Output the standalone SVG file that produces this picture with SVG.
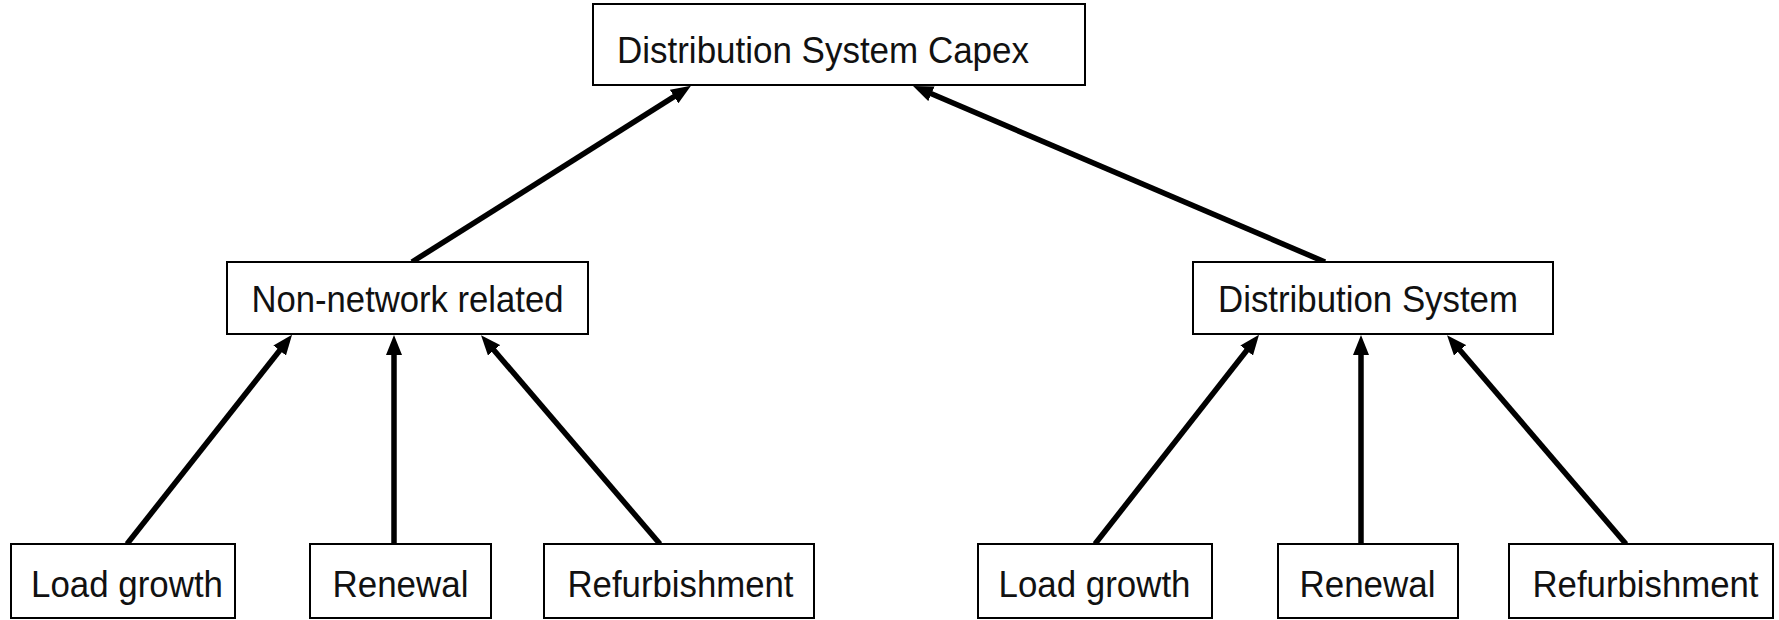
<svg xmlns="http://www.w3.org/2000/svg" width="1779" height="620" viewBox="0 0 1779 620">
<style>
.box{fill:#fff;stroke:#000;stroke-width:2}
.lbl{font-family:"Liberation Sans",Arial,sans-serif;font-size:36px;fill:#111;text-anchor:middle}
.arr{fill:none;stroke:#000;stroke-width:5.5;marker-end:url(#ah)}
</style>
<defs>
<marker id="ah" markerUnits="userSpaceOnUse" markerWidth="20" markerHeight="16" refX="7" refY="8" orient="auto">
<path d="M0,0 L20,8 L0,16 z" fill="#000"/>
</marker>
</defs>
<rect width="1779" height="620" fill="#fff"/>
<g id="connectors">
<line class="arr" x1="412" y1="262" x2="680" y2="92.8"/>
<line class="arr" x1="1325" y1="262" x2="925" y2="91"/>
<line class="arr" x1="127" y1="544" x2="284" y2="345"/>
<line class="arr" x1="394" y1="544" x2="394" y2="348"/>
<line class="arr" x1="660" y1="544" x2="489.5" y2="345"/>
<line class="arr" x1="1095" y1="544" x2="1251" y2="345"/>
<line class="arr" x1="1361" y1="544" x2="1361" y2="348"/>
<line class="arr" x1="1626" y1="544" x2="1455.5" y2="345"/>
</g>
<g id="capex"><rect class="box" x="593" y="4" width="492" height="81"/><text class="lbl" x="823" y="63" textLength="412" lengthAdjust="spacingAndGlyphs">Distribution System Capex</text></g>
<g id="nonnetwork"><rect class="box" x="227" y="262" width="361" height="72"/><text class="lbl" x="407.5" y="312" textLength="312" lengthAdjust="spacingAndGlyphs">Non-network related</text></g>
<g id="distsys"><rect class="box" x="1193" y="262" width="360" height="72"/><text class="lbl" x="1368" y="312" textLength="300" lengthAdjust="spacingAndGlyphs">Distribution System</text></g>
<g id="loadgrowth1"><rect class="box" x="11" y="544" width="224" height="74"/><text class="lbl" x="127" y="597" textLength="192" lengthAdjust="spacingAndGlyphs">Load growth</text></g>
<g id="renewal1"><rect class="box" x="310" y="544" width="181" height="74"/><text class="lbl" x="400.5" y="597" textLength="136" lengthAdjust="spacingAndGlyphs">Renewal</text></g>
<g id="refurb1"><rect class="box" x="544" y="544" width="270" height="74"/><text class="lbl" x="680.5" y="597" textLength="226" lengthAdjust="spacingAndGlyphs">Refurbishment</text></g>
<g id="loadgrowth2"><rect class="box" x="978" y="544" width="234" height="74"/><text class="lbl" x="1094.5" y="597" textLength="192" lengthAdjust="spacingAndGlyphs">Load growth</text></g>
<g id="renewal2"><rect class="box" x="1278" y="544" width="180" height="74"/><text class="lbl" x="1367.5" y="597" textLength="136" lengthAdjust="spacingAndGlyphs">Renewal</text></g>
<g id="refurb2"><rect class="box" x="1509" y="544" width="264" height="74"/><text class="lbl" x="1645.5" y="597" textLength="226" lengthAdjust="spacingAndGlyphs">Refurbishment</text></g>
</svg>
